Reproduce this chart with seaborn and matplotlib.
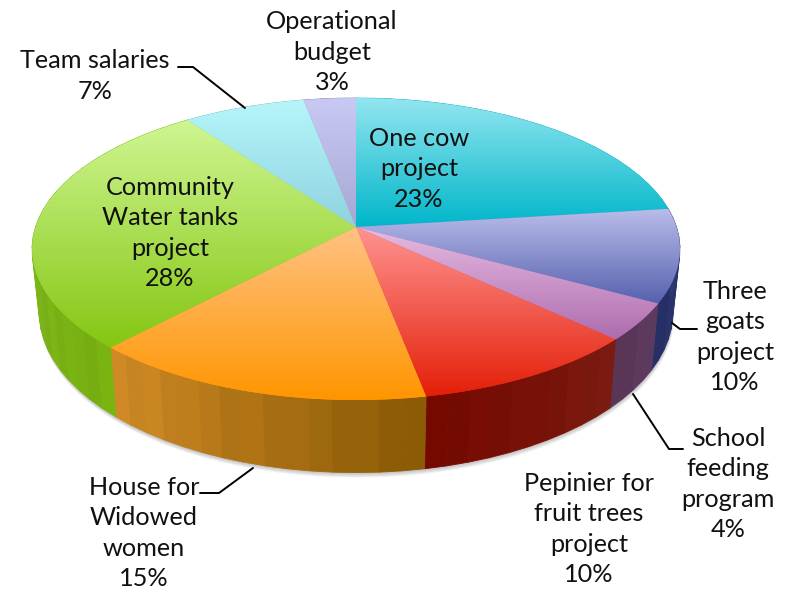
import numpy as np
import matplotlib
matplotlib.use("Agg")
import matplotlib.pyplot as plt
from matplotlib.path import Path
from matplotlib.transforms import Affine2D, Transform
import seaborn as sns

# values
projects = ["One cow\nproject", "Three\ngoats\nproject", "School\nfeeding\nprogram",
            "Pepinier for\nfruit trees\nproject", "House for\nWidowed\nwomen",
            "Community\nWater tanks\nproject", "Team salaries", "Operational\nbudget"]
shares = [23, 10, 4, 10, 15, 28, 7, 3]

# top face gradient (far edge, near edge)
top_light = ["#94e6f0", "#b9bdea", "#e6bce2", "#ff9492", "#ffc284", "#cff692", "#b6f6fb", "#c9c9f5"]
top_dark = ["#00b6ca", "#5660ae", "#ae6cae", "#e41f08", "#ff9600", "#84c612", "#8fd3df", "#a7a7d3"]
# wall gradient (left to right as seen)
wall_a = ["#30bcc8", "#262f66", "#5a3555", "#750900", "#d08a25", "#82be30", "#70c0c8", "#8080a8"]
wall_b = ["#30bcc8", "#2e3a72", "#5d3a60", "#7a1a10", "#8a5a05", "#78b010", "#70c0c8", "#8080a8"]

label_pos = [(419, 169), (735, 337), (728, 484), (589, 529), (144, 533), (170, 233), (95, 76), (332, 52)]

# leader lines in pixels
leaders = [([178, 193, 245], [67, 67, 108]),
           ([697, 680, 672], [329, 329, 323]),
           ([683, 669, 633], [449, 449, 394]),
           ([200, 219, 253], [493, 493, 468])]

CX, CY = 356, 227     # apex
F, G, A = 320.5, 147.8, 0.1457   # perspective of the disc
DEPTH = 62


class Tilt(Transform):
    # unit disc -> picture pixels, with perspective
    input_dims = 2
    output_dims = 2

    def transform_non_affine(self, values):
        u, v = values[:, 0], values[:, 1]
        s = 1 / (1 + A * v)
        return np.column_stack([CX + F * u * s, CY - G * v * s])

    def transform_path_non_affine(self, path):
        # flatten at a large scale, the unit disc alone gives a coarse outline
        polys = path.to_polygons(Affine2D().scale(2000), closed_only=True)
        return Path(self.transform_non_affine(polys[0] / 2000))


def rim(theta):
    t = np.radians(theta)
    pts = np.column_stack([np.cos(t), np.sin(t)])
    return tilt.transform_non_affine(pts), 1 / (1 + A * pts[:, 1])


def lower_rim(theta):
    pts, s = rim(theta)
    return np.column_stack([CX + (pts[:, 0] - CX) * 0.978, pts[:, 1] + DEPTH * s])


sns.set_theme(style="white")
plt.rcParams["font.family"] = ["Lato", "DejaVu Sans"]

fig = plt.figure(figsize=(7.93, 5.96), dpi=100)
ax = fig.add_axes([0, 0, 1, 1])
tilt = Tilt()

wedges, _ = ax.pie(shares, startangle=90, counterclock=False, wedgeprops=dict(lw=0))

# soft shadow under the pie
all_t = np.linspace(0, 360, 181)
for off in [1, 2, 3, 4, 5]:
    low = lower_rim(all_t)
    ax.fill(low[:, 0] + off * 0.2, low[:, 1] + off, color="#555555", alpha=0.08, lw=0, zorder=1)

band = [1.0, 0.98, 1.02, 0.99, 1.01]
for i, w in enumerate(wedges):
    # wall, cut into thin facets like the original
    n = max(int((w.theta2 - w.theta1) / 3.5), 2)
    t = np.linspace(w.theta1, w.theta2, n + 1)
    up, _s = rim(t)
    lo = lower_rim(t)
    pal = sns.blend_palette([wall_a[i], wall_b[i]], n)
    for j in range(n):
        c = np.clip(np.array(pal[j]) * band[j % 5], 0, 1)
        ax.fill([up[j, 0], up[j + 1, 0], lo[j + 1, 0], lo[j, 0]],
                [up[j, 1], up[j + 1, 1], lo[j + 1, 1], lo[j, 1]],
                color=c, lw=0.6, zorder=2)

    # top face
    w.set_transform(tilt + ax.transData)
    w.set_facecolor(top_dark[i])
    w.set_zorder(3)
    ring, _s = rim(np.linspace(w.theta1, w.theta2, 60))
    xs = np.r_[ring[:, 0], CX]
    ys = np.r_[ring[:, 1], CY]
    cmap = sns.blend_palette([top_light[i], top_dark[i]], as_cmap=True)
    im = ax.imshow(np.linspace(0, 1, 256)[:, None], cmap=cmap, aspect="auto", origin="upper",
                   extent=(xs.min(), xs.max(), ys.max(), ys.min()), zorder=4)
    im.set_clip_path(w)

for xs, ys in leaders:
    ax.plot(xs, ys, color="black", lw=1.4, zorder=5)

for name, share, (x, y) in zip(projects, shares, label_pos):
    ax.text(x, y, f"{name}\n{share}%", ha="center", va="center", fontsize=18.2,
            linespacing=1.39, color="#111111", zorder=6)

ax.set_xlim(0, 793)
ax.set_ylim(596, 0)
ax.set_aspect("auto")
ax.axis("off")

fig.savefig("out.png", dpi=100)
